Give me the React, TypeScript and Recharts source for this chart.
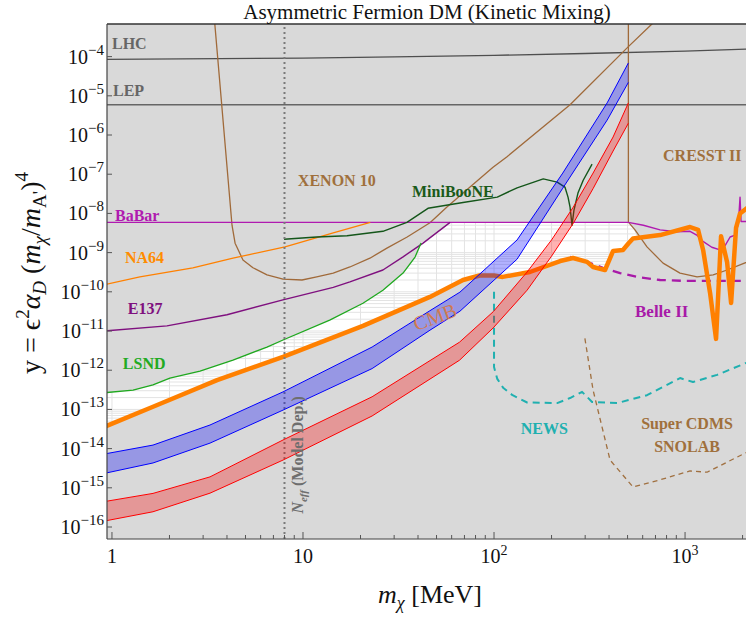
import React from 'react'
import {
  ComposedChart,
  Line,
  Area,
  XAxis,
  YAxis,
  CartesianGrid,
  ReferenceLine,
  ReferenceDot,
} from 'recharts'

// masses in MeV, couplings y = eps^2 alpha_D (m_chi/m_A')^4

const lhcMass = [0.9, 10, 30, 100, 300, 1000, 2200]
const lhcY = [8.5e-5, 9.2e-5, 9.8e-5, 1.08e-4, 1.2e-4, 1.38e-4, 1.57e-4]

const lepMass = [0.9, 2200]
const lepY = [5.9e-6, 5.9e-6]

const xenonMass = [3.42, 4.25, 4.41, 4.85, 5.47, 6.48, 7.86, 9.88, 11.8, 14.4, 17.6, 22.4, 27.5, 35.1, 46.2, 56.7, 74.9, 98.8, 117, 250, 505, 671, 800]
const xenonY = [1.2e-3, 5.0e-9, 1.74e-9, 6.5e-10, 4.1e-10, 2.7e-10, 2.1e-10, 2.0e-10, 2.4e-10, 3.0e-10, 4.3e-10, 7.2e-10, 1.3e-9, 2.5e-9, 5.8e-9, 1.45e-8, 4.7e-8, 1.5e-7, 2.8e-7, 5.9e-6, 1.8e-4, 6.8e-4, 1.5e-3]

const cresstMass = [505, 505, 547, 632, 767, 941, 1156, 1403, 1660, 2200]
const cresstY = [2e-3, 6.0e-9, 3.8e-9, 1.4e-9, 5.4e-10, 3.0e-10, 2.4e-10, 2.7e-10, 3.6e-10, 6.2e-10]

const babarMass = [0.9, 505, 605, 740, 905, 1062, 1151, 1247, 1380, 1525, 1620, 1721, 1827, 1902, 1940, 1964, 2200]
const babarY = [5.9e-9, 5.9e-9, 5.0e-9, 3.8e-9, 3.4e-9, 3.5e-9, 2.8e-9, 1.9e-9, 1.37e-9, 1.17e-9, 1.5e-9, 2.5e-9, 2.8e-9, 5.6e-9, 2.6e-8, 6.2e-9, 6.2e-9]

const na64Mass = [0.9, 1.4, 2.65, 4.3, 8.05, 14.4, 22.5]
const na64Y = [1.5e-10, 2.4e-10, 4.1e-10, 7.2e-10, 1.4e-9, 3.2e-9, 5.9e-9]

const e137Mass = [0.9, 1.94, 4.0, 7.85, 14.4, 17.6, 26.2, 33.4, 42.5, 58.9]
const e137Y = [1.0e-11, 1.35e-11, 2.6e-11, 6.2e-11, 1.3e-10, 1.8e-10, 3.6e-10, 7.8e-10, 1.75e-9, 5.9e-9]

const lsndMass = [0.9, 1.29, 1.64, 2.01, 2.89, 4.3, 6.48, 7.86, 13.8, 20.6, 26.2, 33.4, 38.6, 41.5]
const lsndY = [2.65e-13, 3.1e-13, 4.2e-13, 6.3e-13, 9.5e-13, 1.8e-12, 3.9e-12, 5.9e-12, 1.9e-11, 5.1e-11, 1.1e-10, 3.0e-10, 7.7e-10, 1.75e-9]

const minibooneMass = [7.96, 11.8, 17.0, 26.2, 35.0, 45.1, 68.8, 104, 132, 181, 214, 235, 244, 250, 256, 262, 275, 293, 326]
const minibooneY = [2.2e-9, 2.5e-9, 2.7e-9, 3.5e-9, 5.9e-9, 1.35e-8, 1.9e-8, 2.6e-8, 4.5e-8, 7.6e-8, 6.3e-8, 4.7e-8, 2.6e-8, 1.45e-8, 5e-9, 1.2e-8, 3.3e-8, 7e-8, 1.8e-7]

const newsMass = [100, 100, 104, 112, 125, 149, 214, 250, 289, 326, 441, 632, 941, 1101, 1471, 2200]
const newsY = [1.0e-10, 1.2e-12, 6e-13, 3.5e-13, 2.3e-13, 1.5e-13, 1.45e-13, 1.95e-13, 2.8e-13, 1.55e-13, 1.45e-13, 2.3e-13, 6.3e-13, 5.0e-13, 7.6e-13, 1.7e-12]

const scdmsMass = [299, 330, 405, 534, 740, 1062, 1304, 2200]
const scdmsY = [6.5e-12, 3.1e-13, 5.1e-15, 1.05e-15, 1.6e-15, 2.7e-15, 2.5e-15, 9e-15]

const belleMass = [250, 307, 372, 457, 561, 740, 1000, 2200]
const belleY = [7.8e-10, 5.8e-10, 4.1e-10, 3.0e-10, 2.4e-10, 2.0e-10, 1.9e-10, 1.9e-10]

const cmbMass = [0.9, 1.64, 3.55, 7.86, 20.6, 46.2, 68.8, 84, 100, 111, 154, 222, 259, 307, 330, 381, 420, 473, 505, 534, 740, 1062, 1170, 1243, 1352, 1453, 1543, 1660, 1742, 1849, 1940, 2200]
const cmbY = [3.5e-14, 1.17e-13, 5.6e-13, 2.2e-12, 1.35e-11, 7.4e-11, 2.0e-10, 2.6e-10, 2.6e-10, 2.4e-10, 3.2e-10, 6.1e-10, 7.3e-10, 5.8e-10, 4.3e-10, 3.6e-10, 1.1e-9, 1.17e-9, 1.7e-9, 2.3e-9, 2.8e-9, 4.5e-9, 3.8e-9, 1.17e-9, 9.3e-11, 6.3e-12, 2.6e-9, 5.7e-10, 5.2e-11, 4.3e-9, 1.0e-8, 1.6e-8]

// bands (asymmetric relic targets)
const blueMass = [0.9, 1.64, 3.26, 7.86, 23, 46.2, 66.3, 132, 229, 391, 505]
const blueHi = [7.2e-15, 1.23e-14, 4.0e-14, 2.8e-13, 3.9e-12, 3.3e-11, 9.8e-11, 2.1e-9, 1.07e-7, 6.6e-6, 6.9e-5]
const blueLo = [2.3e-15, 4.3e-15, 1.38e-14, 9.6e-14, 1.1e-12, 1.05e-11, 3.2e-11, 6.8e-10, 4.4e-8, 2.4e-6, 2.2e-5]

const redMass = [0.9, 1.64, 3.26, 7.86, 23, 66, 99, 149, 200, 260, 330, 420, 505]
const redHi = [4.4e-16, 7.2e-16, 1.9e-15, 1.66e-14, 2.1e-13, 5.2e-12, 3.1e-11, 3.2e-10, 2.1e-9, 1.45e-8, 1.07e-7, 8.9e-7, 6.6e-6]
const redLo = [1.4e-16, 2.45e-16, 7.3e-16, 5.1e-15, 6.8e-14, 1.8e-12, 1.2e-11, 1.1e-10, 8.1e-10, 5.6e-9, 4.3e-8, 3.9e-7, 2.0e-6]

// still-open (white) region: between CMB below and the constraint envelope above
const openMass = [0.9, 1.29, 1.64, 2.01, 2.89, 4.3, 6.48, 7.86, 13.8, 20.6, 26.2, 33.4, 38.6, 41.5, 46.2, 58.9, 68.8, 84, 100, 111, 154, 222, 259, 307, 330, 381, 420, 473, 505, 534, 565, 600, 2200]
const openLow = [3.5e-14, 7.2e-14, 1.17e-13, 1.8e-13, 3.7e-13, 7.8e-13, 1.6e-12, 2.2e-12, 6.3e-12, 1.35e-11, 2.2e-11, 3.7e-11, 5.0e-11, 5.7e-11, 7.4e-11, 1.35e-10, 2.0e-10, 2.6e-10, 2.6e-10, 2.4e-10, 3.2e-10, 6.1e-10, 7.3e-10, 5.8e-10, 4.3e-10, 3.6e-10, 1.1e-9, 1.17e-9, 1.7e-9, 2.3e-9, 2.4e-9, 2.6e-9, 2.6e-9]
const openHigh = [2.65e-13, 3.1e-13, 4.2e-13, 6.3e-13, 9.5e-13, 1.8e-12, 3.9e-12, 5.9e-12, 1.9e-11, 5.1e-11, 1.1e-10, 3.0e-10, 7.7e-10, 1.75e-9, 2.4e-9, 5.9e-9, 5.9e-9, 5.9e-9, 5.9e-9, 5.9e-9, 5.9e-9, 5.9e-9, 5.9e-9, 5.9e-9, 5.9e-9, 5.9e-9, 5.9e-9, 5.9e-9, 5.9e-9, 4.4e-9, 2.4e-9, 2.2e-9, 2.2e-9]

const NEFF_MASS = 8

type Note = {
  m: number
  y: number
  text: string
  color: string
  size?: number
  anchor?: 'start' | 'middle' | 'end'
  rotate?: number
  weight?: string
  kind?: 'neff'
}

const notes: Note[] = [
  { m: 1.0, y: 1.56e-4, text: 'LHC', color: '#666666' },
  { m: 1.012, y: 9.9e-6, text: 'LEP', color: '#666666' },
  { m: 1.037, y: 6.4e-9, text: 'BaBar', color: '#b01ab0' },
  { m: 1.17, y: 5.4e-10, text: 'NA64', color: '#ff8c00' },
  { m: 1.21, y: 2.7e-11, text: 'E137', color: '#7f107f' },
  { m: 1.14, y: 1.07e-12, text: 'LSND', color: '#22aa22' },
  { m: 9.4, y: 5.0e-8, text: 'XENON 10', color: '#a0703c' },
  { m: 37.2, y: 2.6e-8, text: 'MiniBooNE', color: '#1a5a1a' },
  { m: 767, y: 2.2e-7, text: 'CRESST II', color: '#a0703c' },
  { m: 547, y: 2.3e-11, text: 'Belle II', color: '#a81aa8', size: 17 },
  { m: 138, y: 2.35e-14, text: 'NEWS', color: '#20b0b0' },
  { m: 1024, y: 3.16e-14, text: 'Super CDMS', color: '#a0703c', anchor: 'middle' },
  { m: 1024, y: 8.1e-15, text: 'SNOLAB', color: '#a0703c', anchor: 'middle' },
  { m: 49, y: 2.3e-11, text: 'CMB', color: '#d07a50', size: 20, anchor: 'middle', rotate: -20, weight: 'normal' },
  { m: 10, y: 6.9e-15, text: 'N', color: '#6e6e6e', size: 16, anchor: 'middle', rotate: -90, kind: 'neff' },
]

// axis frame (log10 units)
const X_MIN = -0.026
const X_MAX = 3.319
const Y_MIN = -16.306
const Y_MAX = -3.168
const Y_FLOOR = -18
const Y_CEIL = -2

const FONT = "'Liberation Serif', 'Times New Roman', serif"
const lg = Math.log10

const pts = (mass: number[], ys: number[]) => mass.map((m, i) => ({ x: lg(m), y: lg(ys[i]) }))
const band = (mass: number[], lo: number[], hi: number[]) =>
  mass.map((m, i) => ({ x: lg(m), r: [lg(lo[i]), lg(hi[i])] }))

const digits = [1, 2, 3, 4, 5, 6, 7, 8, 9]
const xTicks = [0, 1, 2, 3].flatMap((d) => digits.map((k) => d + lg(k))).filter((v) => v <= X_MAX)
const yTicks = [-16, -15, -14, -13, -12, -11, -10, -9, -8, -7, -6, -5, -4]
const yGrid = [-17, ...yTicks].flatMap((d) => digits.map((k) => d + lg(k))).filter((v) => v >= Y_MIN && v <= Y_MAX)

const curves = [
  { id: 'lhc', data: pts(lhcMass, lhcY), color: '#4f4f4f', width: 1.3 },
  { id: 'lep', data: pts(lepMass, lepY), color: '#666666', width: 1.6 },
  { id: 'xenon', data: pts(xenonMass, xenonY), color: '#a06a3a', width: 1.3 },
  { id: 'cresst', data: pts(cresstMass, cresstY), color: '#a06a3a', width: 1.3 },
  { id: 'babar', data: pts(babarMass, babarY), color: '#b01ab0', width: 1.4 },
  { id: 'na64', data: pts(na64Mass, na64Y), color: '#ff8000', width: 1.3 },
  { id: 'e137', data: pts(e137Mass, e137Y), color: '#7f107f', width: 1.4 },
  { id: 'lsnd', data: pts(lsndMass, lsndY), color: '#1fa81f', width: 1.3 },
  { id: 'miniboone', data: pts(minibooneMass, minibooneY), color: '#14561a', width: 1.4 },
  { id: 'news', data: pts(newsMass, newsY), color: '#20b0b0', width: 2, dash: '7 5' },
  { id: 'scdms', data: pts(scdmsMass, scdmsY), color: '#a07040', width: 1.3, dash: '5 4' },
  { id: 'belle', data: pts(belleMass, belleY), color: '#a81aa8', width: 2.3, dash: '9 6' },
  { id: 'cmb', data: pts(cmbMass, cmbY), color: '#ff8000', width: 4.5 },
]

const grayBelow = openMass.map((m, i) => ({ x: lg(m), r: [Y_FLOOR, lg(openLow[i])] }))
const grayAbove = openMass.map((m, i) => ({ x: lg(m), r: [lg(openHigh[i]), Y_CEIL] }))

const XTick = (props: any) => {
  const { x, y, payload } = props
  const v = payload.value as number
  const n = Math.round(v)
  const major = Math.abs(v - n) < 1e-6
  return (
    <g>
      <line x1={x} x2={x} y1={y} y2={y - (major ? 7 : 4)} stroke="#555" strokeWidth={1} />
      {major && (
        <text x={x} y={y + 24} textAnchor="middle" fontFamily={FONT} fontSize={20} fill="#111">
          {n === 0 ? '1' : n === 1 ? '10' : (
            <>
              10<tspan dy={-8} fontSize={14}>{n}</tspan>
            </>
          )}
        </text>
      )}
    </g>
  )
}

const YTick = (props: any) => {
  const { x, y, payload } = props
  const n = Math.round(payload.value as number)
  return (
    <g>
      <line x1={x} x2={x + 5} y1={y} y2={y} stroke="#555" strokeWidth={1} />
      <text x={x - 3} y={y + 7} textAnchor="end" fontFamily={FONT} fontSize={20} fill="#111">
        10<tspan dy={-9} fontSize={15}>{'\u2212' + Math.abs(n)}</tspan>
      </text>
    </g>
  )
}

const noteContent = (n: Note) => (props: any) => {
  const vb = props.viewBox || {}
  const x = Number(vb.x ?? 0)
  const y = Number(vb.y ?? 0)
  const transform = n.rotate ? `rotate(${n.rotate} ${x} ${y})` : undefined
  if (n.kind === 'neff') {
    return (
      <text x={x} y={y} transform={transform} textAnchor="middle" fontFamily={FONT} fontSize={n.size}
        fontWeight="bold" fill={n.color}>
        <tspan fontStyle="italic">N</tspan>
        <tspan fontStyle="italic" fontSize={11} dy={4}>eff</tspan>
        <tspan dy={-4}>{'  (Model Dep.)'}</tspan>
      </text>
    )
  }
  return (
    <text x={x} y={y} transform={transform} textAnchor={n.anchor ?? 'start'}
      dominantBaseline={n.rotate ? 'central' : undefined} fontFamily={FONT} fontSize={n.size ?? 16}
      fontWeight={n.weight ?? 'bold'} fill={n.color}>
      {n.text}
    </text>
  )
}

const App: React.FC = () => {
  return (
    <div style={{ position: 'absolute', left: 0, top: 0, width: 746, height: 617, background: '#fff' }}>
      <ComposedChart width={746} height={617} margin={{ top: 24, right: 0, bottom: 0, left: 0 }}>
        <CartesianGrid
          horizontalValues={yGrid}
          verticalValues={xTicks}
          stroke="#e3e3e3"
          strokeWidth={1}
          fill="#ffffff"
          fillOpacity={1}
        />
        <XAxis
          type="number"
          dataKey="x"
          domain={[X_MIN, X_MAX]}
          allowDataOverflow
          ticks={xTicks}
          interval={0}
          tick={<XTick />}
          tickLine={false}
          tickSize={0}
          tickMargin={0}
          height={78}
          axisLine={{ stroke: '#444', strokeWidth: 1.2 }}
        />
        <YAxis
          type="number"
          domain={[Y_MIN, Y_MAX]}
          allowDataOverflow
          ticks={yTicks}
          interval={0}
          tick={<YTick />}
          tickLine={false}
          tickSize={0}
          tickMargin={0}
          width={107}
          axisLine={{ stroke: '#444', strokeWidth: 1.2 }}
        />

        <Area data={grayBelow} dataKey="r" type="linear" stroke="none" fill="#d9d9d9" fillOpacity={1}
          dot={false} activeDot={false} isAnimationActive={false} zIndex={50} />
        <Area data={grayAbove} dataKey="r" type="linear" stroke="none" fill="#d9d9d9" fillOpacity={1}
          dot={false} activeDot={false} isAnimationActive={false} zIndex={50} />

        {curves.map((c) => (
          <Line
            key={c.id}
            data={c.data}
            dataKey="y"
            type="linear"
            stroke={c.color}
            strokeWidth={c.width}
            strokeDasharray={c.dash}
            strokeLinejoin="round"
            dot={false}
            activeDot={false}
            isAnimationActive={false}
          />
        ))}

        {notes.filter((n) => n.text === 'CMB').map((n) => (
          <ReferenceDot key="cmb-note" x={lg(n.m)} y={lg(n.y)} r={0} stroke="none" fill="none"
            label={noteContent(n)} />
        ))}

        <Area data={band(blueMass, blueLo, blueHi)} dataKey="r" type="linear" stroke="#0000ff" strokeWidth={1}
          fill="#0000ff" fillOpacity={0.3} dot={false} activeDot={false} isAnimationActive={false} zIndex={450} />
        <Area data={band(redMass, redLo, redHi)} dataKey="r" type="linear" stroke="#ff0000" strokeWidth={1}
          fill="#ff0000" fillOpacity={0.3} dot={false} activeDot={false} isAnimationActive={false} zIndex={450} />

        <ReferenceLine x={lg(NEFF_MASS)} stroke="#7a7a7a" strokeWidth={2} strokeDasharray="2 3" />
        <ReferenceLine y={Y_MAX} stroke="#333" strokeWidth={1.5} />

        {notes.filter((n) => n.text !== 'CMB').map((n) => (
          <ReferenceDot key={n.text} x={lg(n.m)} y={lg(n.y)} r={0} stroke="none" fill="none"
            label={noteContent(n)} />
        ))}
      </ComposedChart>

      <svg width={746} height={617} style={{ position: 'absolute', left: 0, top: 0, pointerEvents: 'none' }}>
        <text x={427} y={19} textAnchor="middle" fontFamily={FONT} fontSize={21} fill="#111">
          Asymmetric Fermion DM (Kinetic Mixing)
        </text>
        <text x={430} y={603} textAnchor="middle" fontFamily={FONT} fontSize={26} fill="#111">
          <tspan fontStyle="italic">m</tspan>
          <tspan fontStyle="italic" fontSize={18} dy={6}>χ</tspan>
          <tspan dy={-6}>{' [MeV]'}</tspan>
        </text>
        <text transform="translate(40,273) rotate(-90)" textAnchor="middle" fontFamily={FONT} fontSize={28} fill="#111">
          <tspan>{'y = ϵ'}</tspan>
          <tspan fontSize={19} dy={-11}>2</tspan>
          <tspan fontStyle="italic" dy={11}>α</tspan>
          <tspan fontStyle="italic" fontSize={19} dy={6}>D</tspan>
          <tspan dy={-6}>{' ('}</tspan>
          <tspan fontStyle="italic">m</tspan>
          <tspan fontStyle="italic" fontSize={19} dy={6}>χ</tspan>
          <tspan dy={-6}>/</tspan>
          <tspan fontStyle="italic">m</tspan>
          <tspan fontSize={19} dy={6}>{"A'"}</tspan>
          <tspan dy={-6}>)</tspan>
          <tspan fontSize={19} dy={-12}>4</tspan>
        </text>
      </svg>
    </div>
  )
}

export default App
